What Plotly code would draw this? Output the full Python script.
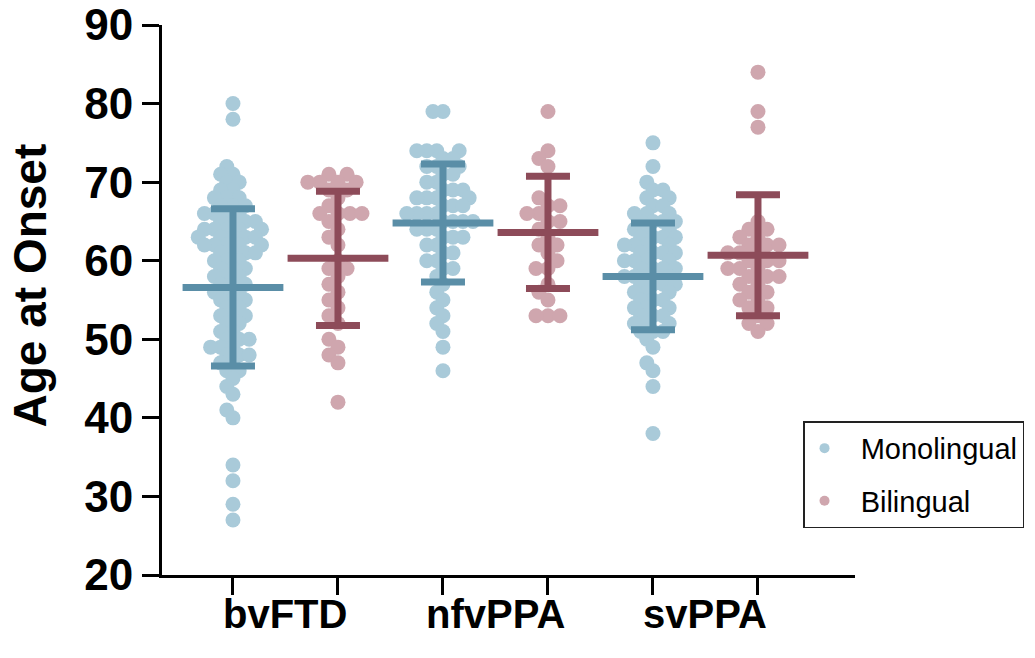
import math
import plotly.graph_objects as go

# ---------------- data ----------------
groups = ["bvFTD", "nfvPPA", "svPPA"]
series_names = ["Monolingual", "Bilingual"]

mono_bvftd = [80, 78, 72, 71, 71, 70, 70, 69, 69, 68, 68, 68, 67, 67, 67, 66, 66, 66, 66,
              65, 65, 65, 65, 64, 64, 64, 64, 64, 63, 63, 63, 63, 63, 62, 62, 62, 62, 62,
              61, 61, 61, 61, 60, 60, 60, 59, 59, 59, 58, 58, 58, 57, 57, 57, 56, 56, 56,
              55, 55, 55, 54, 54, 53, 53, 53, 52, 52, 51, 51, 50, 50, 50, 49, 49, 49, 48,
              48, 48, 47, 47, 46, 46, 45, 44, 43, 41, 40, 34, 32, 29, 27]
bi_bvftd = [71, 71, 70, 70, 70, 70, 69, 69, 68, 67, 66, 66, 66, 66, 65, 64, 63, 62, 60,
            59, 59, 58, 57, 56, 55, 54, 53, 52, 50, 49, 48, 47, 42]
mono_nfvppa = [79, 79, 74, 74, 74, 74, 73, 73, 72, 72, 72, 71, 71, 70, 70, 69, 69, 69, 68,
               68, 68, 68, 67, 67, 67, 66, 66, 66, 66, 65, 65, 65, 65, 64, 64, 64, 63, 63,
               63, 62, 62, 61, 61, 60, 60, 59, 59, 58, 57, 56, 55, 54, 53, 52, 51, 49, 46]
bi_nfvppa = [79, 74, 73, 72, 68, 67, 67, 66, 66, 65, 65, 64, 63, 62, 62, 61, 60, 59, 59,
             57, 56, 55, 53, 53, 53]
mono_svppa = [75, 72, 70, 69, 69, 68, 68, 67, 67, 66, 66, 66, 65, 65, 65, 65, 64, 64, 64,
              63, 63, 63, 63, 62, 62, 62, 62, 61, 61, 61, 61, 60, 60, 60, 60, 59, 59, 59,
              59, 58, 58, 58, 58, 57, 57, 57, 57, 56, 56, 56, 55, 55, 55, 54, 54, 54, 53,
              53, 53, 52, 52, 52, 51, 51, 51, 50, 49, 47, 46, 44, 38]
bi_svppa = [84, 79, 77, 65, 64, 64, 63, 63, 62, 62, 62, 61, 61, 61, 60, 60, 60, 59, 59, 59,
            58, 58, 58, 57, 57, 56, 56, 55, 55, 54, 54, 53, 52, 52, 51]

mono_mean = [56.6, 64.8, 58.0]
mono_sd = [10.0, 7.5, 6.8]
bi_mean = [60.3, 63.6, 60.7]
bi_sd = [8.55, 7.15, 7.7]

y_ticks = [20, 30, 40, 50, 60, 70, 80, 90]

# ---------------- styling ----------------
FONT = "Liberation Sans, Arial, Helvetica, sans-serif"
MONO_PT = "#a9cad9"
MONO_BAR = "#5a8ea7"
BI_PT = "#cfa6ae"
BI_BAR = "#8d4b59"

W, H = 1035, 658
ML, MR, MT, MB = 162, 180, 25, 83
X_RANGE = [-0.676, 5.924]
Y_RANGE = [20, 90]
px_per_x = (W - ML - MR) / (X_RANGE[1] - X_RANGE[0])
px_per_y = (H - MT - MB) / (Y_RANGE[1] - Y_RANGE[0])
DOT = 15


def swarm_offsets(vals, d=10.0):
    """Beeswarm layout: returns x offsets (in axis units) for each value."""
    order = sorted(range(len(vals)), key=lambda i: vals[i])
    placed = []
    offs = [0.0] * len(vals)
    for i in order:
        y = vals[i] * px_per_y
        cands = [0.0]
        for (px, py) in placed:
            dy = y - py
            if abs(dy) < d:
                dx = math.sqrt(d * d - dy * dy)
                cands += [px + dx, px - dx]
        cands.sort(key=lambda c: (abs(c), c))
        chosen = 0.0
        for c in cands:
            ok = True
            for (px, py) in placed:
                if (c - px) ** 2 + (y - py) ** 2 < d * d - 1e-6:
                    ok = False
                    break
            if ok:
                chosen = c
                break
        placed.append((chosen, y))
        offs[i] = chosen / px_per_x
    return offs


fig = go.Figure()

mono_data = [mono_bvftd, mono_nfvppa, mono_svppa]
bi_data = [bi_bvftd, bi_nfvppa, bi_svppa]

for g in range(len(groups)):
    for s, (data, col, dd) in enumerate([(mono_data[g], MONO_PT, 10.0), (bi_data[g], BI_PT, 12.0)]):
        center = 2 * g + s
        offs = swarm_offsets(data, dd)
        fig.add_trace(go.Scatter(
            x=[center + o for o in offs], y=data, mode="markers",
            marker=dict(size=DOT, color=col, line=dict(width=0)),
            showlegend=False, hoverinfo="y"))

# mean +/- SD bars
for s, (means, sds, col) in enumerate([(mono_mean, mono_sd, MONO_BAR), (bi_mean, bi_sd, BI_BAR)]):
    fig.add_trace(go.Scatter(
        x=[2 * g + s for g in range(len(groups))], y=means, mode="markers",
        marker=dict(symbol="line-ew", size=72, line=dict(width=7, color=col)),
        error_y=dict(type="data", array=sds, visible=True, thickness=7, width=22, color=col),
        showlegend=False, hoverinfo="y"))

# legend entries
for name, col in [("Monolingual", MONO_PT), ("Bilingual", BI_PT)]:
    fig.add_trace(go.Scatter(
        x=[None], y=[None], mode="markers", name="\u00a0\u00a0" + name,
        legendgroup=name, marker=dict(size=10, color=col)))

for g, name in enumerate(groups):
    fig.add_annotation(x=2 * g + 0.5, xref="x", y=-0.071, yref="paper",
                       text=name, showarrow=False, xanchor="center", yanchor="middle",
                       font=dict(family=FONT, size=40, color="black", weight="bold"))

fig.add_annotation(x=-0.19, xref="paper", y=0.527, yref="paper", text="Age at Onset",
                   textangle=-90, showarrow=False, xanchor="center", yanchor="middle",
                   font=dict(family=FONT, size=46, color="black", weight="bold"))

fig.update_layout(
    width=W, height=H,
    margin=dict(l=ML, r=MR, t=MT, b=MB, autoexpand=False),
    paper_bgcolor="white", plot_bgcolor="white",
    font=dict(family=FONT, color="black"),
    xaxis=dict(range=X_RANGE, tickvals=[0, 1, 2, 3, 4, 5], ticktext=[""] * 6,
               ticks="outside", ticklen=17, tickwidth=3, tickcolor="black",
               showline=True, linewidth=3, linecolor="black", automargin=False,
               showgrid=False, zeroline=False, fixedrange=True),
    yaxis=dict(range=Y_RANGE, tickvals=y_ticks, ticks="outside", ticklen=17, tickwidth=3,
               tickcolor="black", showline=True, linewidth=3, linecolor="black",
               showgrid=False, zeroline=False, automargin=False,
               ticklabeloverflow="allow",
               tickfont=dict(family=FONT, size=44, color="black", weight="bold")),
    legend=dict(x=0.925, xanchor="left", y=0.2795, yanchor="top",
                bordercolor="#222222", borderwidth=1.5, bgcolor="white",
                font=dict(family=FONT, size=29, color="black"),
                tracegroupgap=12, itemwidth=30),
    showlegend=True,
)

fig.write_html("out.html", config={"displayModeBar": False},
               post_script="document.body.style.margin='0px';"
                           "document.body.style.overflow='hidden';")
